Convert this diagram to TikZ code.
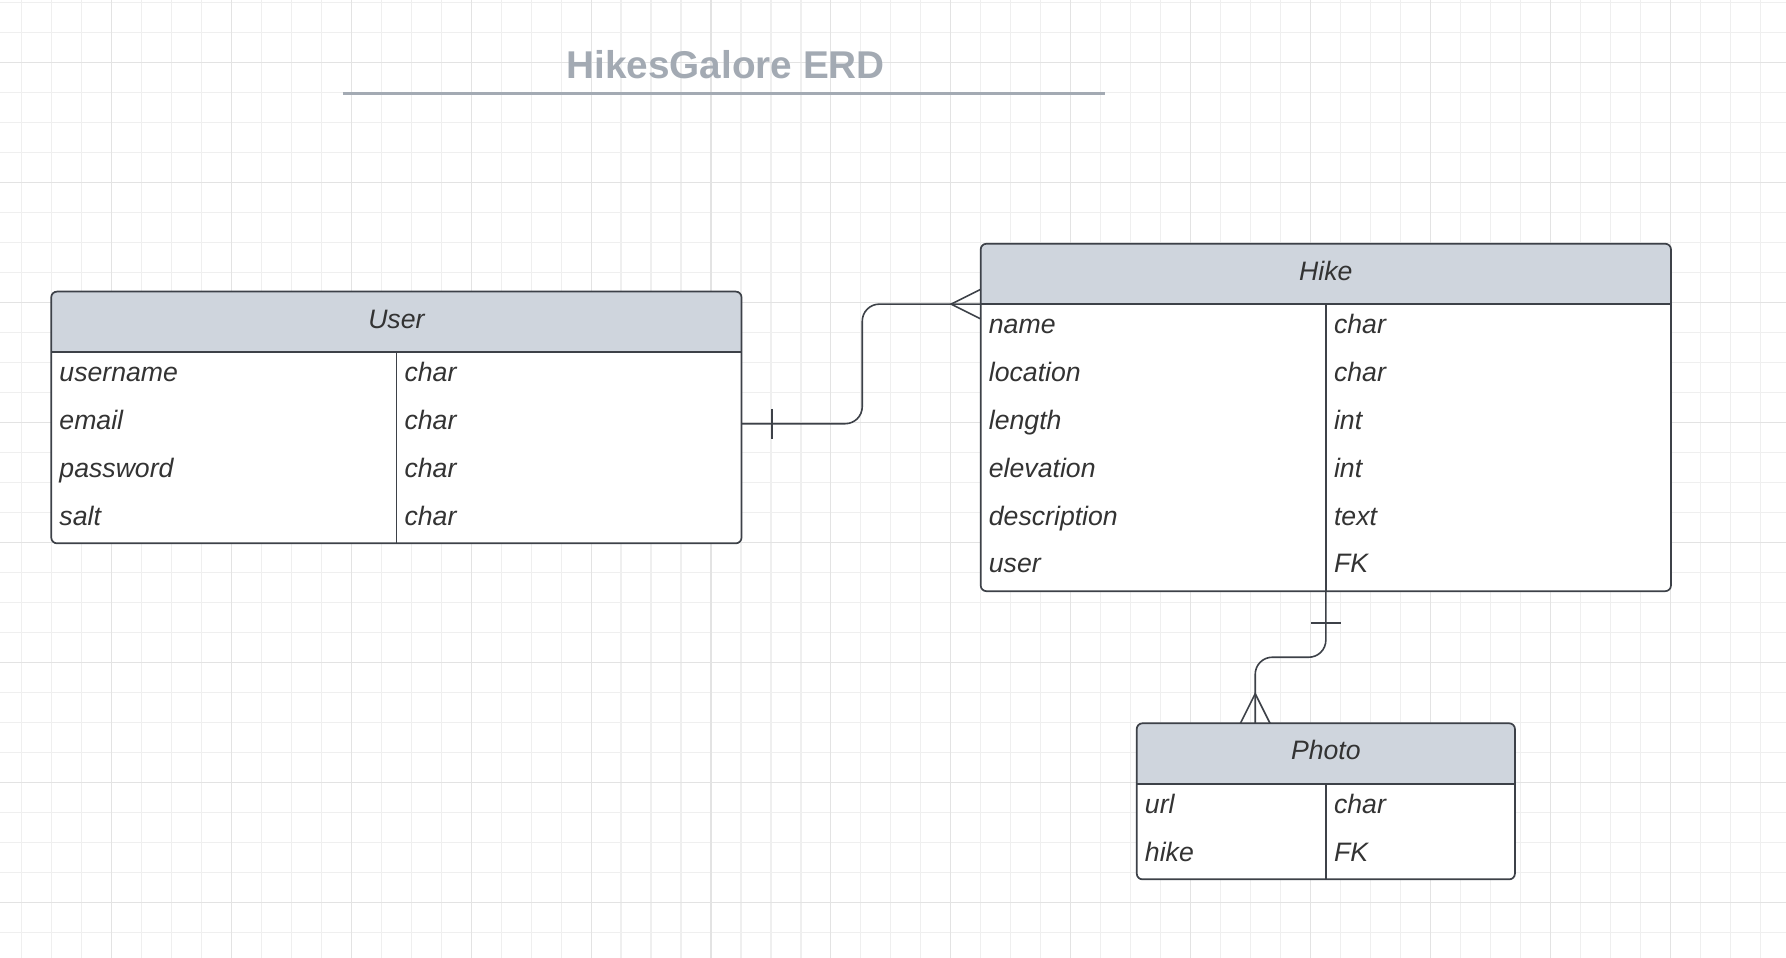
\documentclass[tikz,border=0pt]{standalone}
\usepackage{fontspec}
\setmainfont{Liberation Sans}
\usetikzlibrary{calc}
\definecolor{gridminor}{HTML}{EFEFEF}
\definecolor{gridmajor}{HTML}{E3E3E3}
\definecolor{headfill}{HTML}{CFD5DD}
\definecolor{edgec}{HTML}{3D4148}
\definecolor{txt}{HTML}{333333}
\definecolor{titlec}{HTML}{A3AAB3}
\begin{document}
\begin{tikzpicture}[x=1pt,y=-1pt,
  entitybox/.style={draw=none, fill=none, inner sep=0pt, outer sep=0pt, anchor=north west},
  cell/.style={font=\fontsize{23.4}{28}\selectfont\itshape, text=txt, inner sep=0pt, anchor=base west},
  headtext/.style={font=\fontsize{23.4}{28}\selectfont\itshape, text=txt, inner sep=0pt, anchor=base},
  border/.style={draw=edgec, line width=1.5pt, rounded corners=5pt},
  rule/.style={draw=edgec, line width=1.5pt},
  conn/.style={draw=edgec, line width=1.4pt, rounded corners=15pt},
  crowline/.style={draw=edgec, line width=1.4pt},
  gminor/.style={draw=gridminor, line width=1pt},
  gmajor/.style={draw=gridmajor, line width=1pt}
]
\fill[white] (0,0) rectangle (1568,841);
\useasboundingbox (0,0) rectangle (1568,841);
% grid
\foreach \k in {-3,...,56} { \draw[gminor] ({97.8+26.32*\k},0) -- ({97.8+26.32*\k},841); }
\foreach \k in {-6,...,26} { \draw[gminor] (0,{160.4+26.32*\k}) -- (1568,{160.4+26.32*\k}); }
\foreach \k in {0,...,13} { \draw[gmajor] ({97.8+105.28*\k},0) -- ({97.8+105.28*\k},841); }
\foreach \k in {-1,...,6} { \draw[gmajor] (0,{160.4+105.28*\k}) -- (1568,{160.4+105.28*\k}); }

% title
\node[font=\fontsize{34}{40}\selectfont\bfseries, text=titlec, inner sep=0pt] (title) at (637,57) {HikesGalore ERD};
\draw[titlec, line width=3pt] (301,82) -- (970,82);

% ---------- User ----------
\node[entitybox, minimum width=606pt, minimum height=221pt] (user) at (45,256) {};
\fill[white, rounded corners=5pt] (user.north west) rectangle (user.south east);
\begin{scope}
  \clip[rounded corners=5pt] (user.north west) rectangle (user.south east);
  \fill[headfill] (user.north west) rectangle ($(user.north east)+(0,53)$);
\end{scope}
\draw[rule] ($(user.north west)+(0,53)$) -- ($(user.north east)+(0,53)$);
\draw[rule] (348,309) -- (348,477);
\draw[border] (user.north west) rectangle (user.south east);
\node[headtext] (userh) at (348,288) {User};
\node[cell] (u1n) at (52,335) {username};
\node[cell] (u1t) at (355,335) {char};
\node[cell] (u2n) at (52,377) {email};
\node[cell] (u2t) at (355,377) {char};
\node[cell] (u3n) at (52,419) {password};
\node[cell] (u3t) at (355,419) {char};
\node[cell] (u4n) at (52,461) {salt};
\node[cell] (u4t) at (355,461) {char};

% ---------- Hike ----------
\node[entitybox, minimum width=606pt, minimum height=305pt] (hike) at (861,214) {};
\fill[white, rounded corners=5pt] (hike.north west) rectangle (hike.south east);
\begin{scope}
  \clip[rounded corners=5pt] (hike.north west) rectangle (hike.south east);
  \fill[headfill] (hike.north west) rectangle ($(hike.north east)+(0,53)$);
\end{scope}
\draw[rule] ($(hike.north west)+(0,53)$) -- ($(hike.north east)+(0,53)$);
\draw[rule] (1164,267) -- (1164,519);
\draw[border] (hike.north west) rectangle (hike.south east);
\node[headtext] (hikeh) at (1164,246) {Hike};
\node[cell] (h1n) at (868,293) {name};
\node[cell] (h1t) at (1171,293) {char};
\node[cell] (h2n) at (868,335) {location};
\node[cell] (h2t) at (1171,335) {char};
\node[cell] (h3n) at (868,377) {length};
\node[cell] (h3t) at (1171,377) {int};
\node[cell] (h4n) at (868,419) {elevation};
\node[cell] (h4t) at (1171,419) {int};
\node[cell] (h5n) at (868,461) {description};
\node[cell] (h5t) at (1171,461) {text};
\node[cell] (h6n) at (868,503) {user};
\node[cell] (h6t) at (1171,503) {FK};

% ---------- Photo ----------
\node[entitybox, minimum width=332pt, minimum height=137pt] (photo) at (998,635) {};
\fill[white, rounded corners=5pt] (photo.north west) rectangle (photo.south east);
\begin{scope}
  \clip[rounded corners=5pt] (photo.north west) rectangle (photo.south east);
  \fill[headfill] (photo.north west) rectangle ($(photo.north east)+(0,53)$);
\end{scope}
\draw[rule] ($(photo.north west)+(0,53)$) -- ($(photo.north east)+(0,53)$);
\draw[rule] (1164,688) -- (1164,772);
\draw[border] (photo.north west) rectangle (photo.south east);
\node[headtext] (photoh) at (1164,667) {Photo};
\node[cell] (p1n) at (1005,714) {url};
\node[cell] (p1t) at (1171,714) {char};
\node[cell] (p2n) at (1005,756) {hike};
\node[cell] (p2t) at (1171,756) {FK};

% ---------- connectors ----------
\coordinate (ua) at ($(user.north east)+(0,116)$);
\coordinate (ha) at ($(hike.north west)+(0,53)$);
\draw[conn] (ua) -- (757,372) -- (757,267) -- (ha);
\draw[crowline] (678,359) -- (678,385);
\draw[crowline] (861,254) -- (835,267) -- (861,280);

\coordinate (pa) at ($(photo.north west)+(104,0)$);
\draw[conn] (hike.south) -- (1164,577) -- (1102,577) -- (pa);
\draw[crowline] (1151,547) -- (1177,547);
\draw[crowline] (1089,635) -- (1102,609) -- (1115,635);
\end{tikzpicture}
\end{document}
